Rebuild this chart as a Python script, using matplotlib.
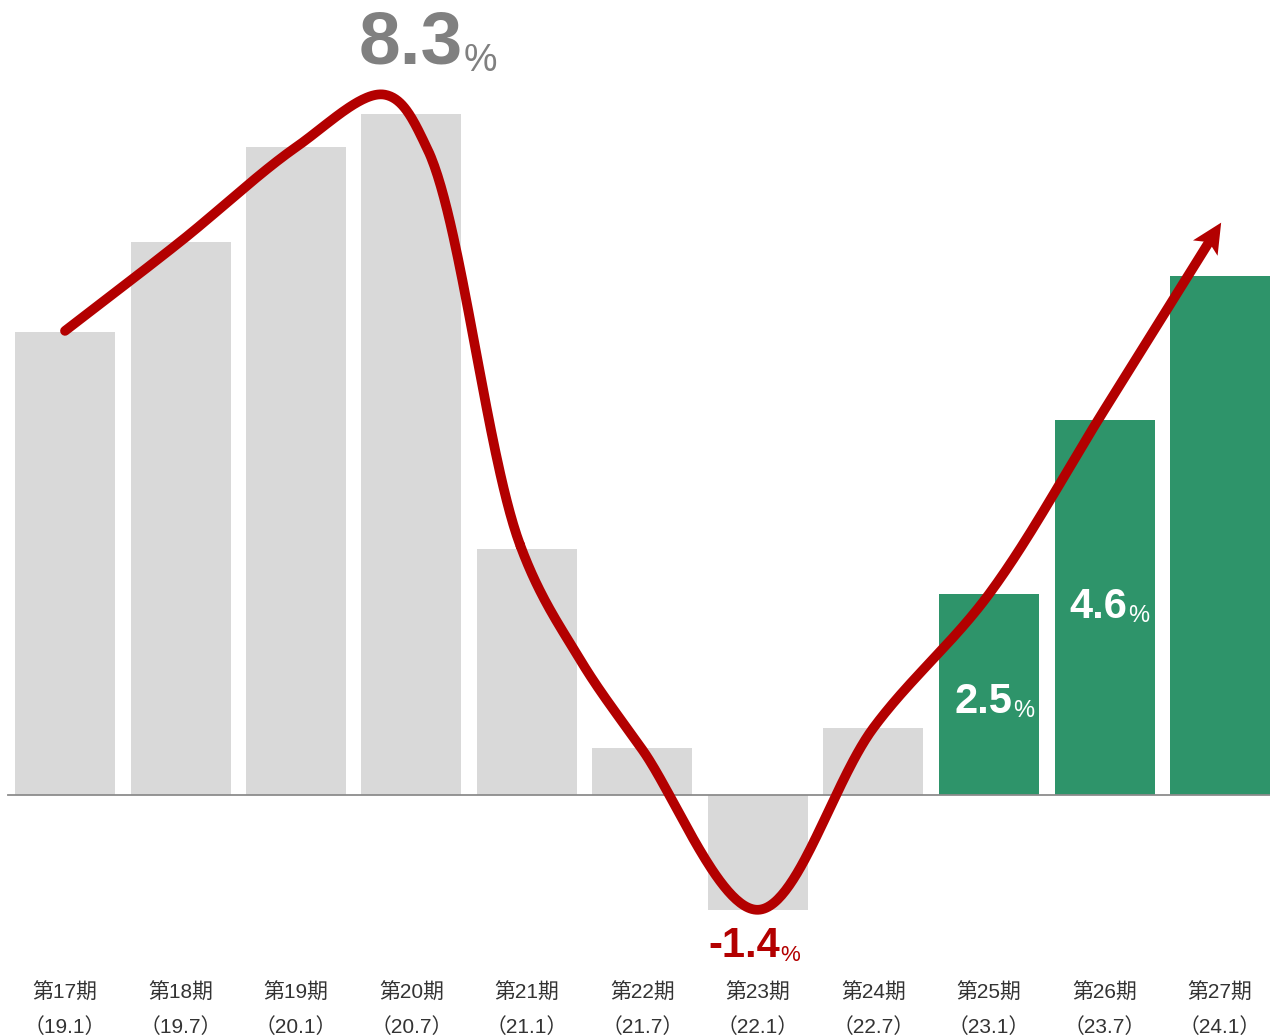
import numpy as np
import matplotlib
matplotlib.use("Agg")
import matplotlib.pyplot as plt
from matplotlib.patches import Polygon

plt.rcParams['font.family'] = ['Liberation Sans', 'Noto Sans CJK JP', 'DejaVu Sans']

# data
periods = ["第17期", "第18期", "第19期", "第20期", "第21期", "第22期",
           "第23期", "第24期", "第25期", "第26期", "第27期"]
months = ["（19.1）", "（19.7）", "（20.1）", "（20.7）", "（21.1）", "（21.7）",
          "（22.1）", "（22.7）", "（23.1）", "（23.7）", "（24.1）"]
values = [5.65, 6.75, 7.9, 8.3, 3.0, 0.57, -1.4, 0.82, 2.45, 4.57, 6.33]
is_forecast = [False] * 8 + [True] * 3

# trend curve drawn over the bars
trend_x = [0, 1, 2, 2.77, 3.14, 3.94, 4.46, 5.0, 6, 7, 8, 9, 10.01]
trend_y = [5.66, 6.75, 7.9, 8.54, 7.87, 3.05, 1.65, 0.55, -1.4, 0.82,
           2.45, 4.7, 6.98]

# labelled values: (bar index, text)
labels = [(3, "8.3"), (6, "-1.4"), (8, "2.5"), (9, "4.6")]

gray_bar = "#d9d9d9"
green = "#2e946a"
red = "#b30000"

SX, SY = 115.5, 82  # pixels per data unit

fig = plt.figure(figsize=(12.7, 10.36), dpi=100)
ax = fig.add_axes([0, 0, 1, 1])
ax.set_xlim(-65 / SX, (1270 - 65) / SX)
ax.set_ylim(-(1036 - 795) / SY, 795 / SY)
ax.axis("off")

x = np.arange(len(values))
colors = [green if f else gray_bar for f in is_forecast]
ax.bar(x, values, width=100 / SX, color=colors, zorder=1)
ax.plot([-0.494, 11], [0, 0], color="#8c8c8c", lw=1.3, zorder=2)


def catmull_rom(px, py, n=60, alpha=0.5):
    # catmull-rom in pixel space
    P = np.column_stack([np.array(px) * SX, np.array(py) * SY])
    P = np.vstack([2 * P[0] - P[1], P, 2 * P[-1] - P[-2]])
    out = []
    for i in range(1, len(P) - 2):
        p0, p1, p2, p3 = P[i - 1], P[i], P[i + 1], P[i + 2]
        t0 = 0
        t1 = t0 + np.linalg.norm(p1 - p0) ** alpha
        t2 = t1 + np.linalg.norm(p2 - p1) ** alpha
        t3 = t2 + np.linalg.norm(p3 - p2) ** alpha
        t = np.linspace(t1, t2, n)[:, None]
        a1 = (t1 - t) / (t1 - t0) * p0 + (t - t0) / (t1 - t0) * p1
        a2 = (t2 - t) / (t2 - t1) * p1 + (t - t1) / (t2 - t1) * p2
        a3 = (t3 - t) / (t3 - t2) * p2 + (t - t2) / (t3 - t2) * p3
        b1 = (t2 - t) / (t2 - t0) * a1 + (t - t0) / (t2 - t0) * a2
        b2 = (t3 - t) / (t3 - t1) * a2 + (t - t1) / (t3 - t1) * a3
        c = (t2 - t) / (t2 - t1) * b1 + (t - t1) / (t2 - t1) * b2
        out.append(c)
    return np.vstack(out)


curve = catmull_rom(trend_x, trend_y)  # pixel coords
tip = curve[-1]
seglen = np.r_[0, np.cumsum(np.linalg.norm(np.diff(curve, axis=0), axis=1))]
dist_from_end = seglen[-1] - seglen
back = curve[np.argmin(np.abs(dist_from_end - 30))]
d = (tip - back) / np.linalg.norm(tip - back)
nrm = np.array([-d[1], d[0]])
head_len, head_w, notch = 30, 14.5, 23
base = tip - head_len * d
head = np.array([tip, base + head_w * nrm, tip - notch * d, base - head_w * nrm])

line = curve[dist_from_end >= notch - 2]
ax.plot(line[:, 0] / SX, line[:, 1] / SY, color=red, lw=7,
        solid_capstyle="round", zorder=3)
ax.add_patch(Polygon(np.column_stack([head[:, 0] / SX, head[:, 1] / SY]),
                     closed=True, color=red, lw=0, zorder=3))

# value labels
label_pos = {3: (3.446, 8.915, "#808080", 54, 27),
             6: (6.19, -1.98, red, 30, 16),
             8: (8.20, 1.0, "white", 30, 17),
             9: (9.20, 2.16, "white", 30, 17)}
for i, txt in labels:
    lx, ly, col, fs, fs2 = label_pos[i]
    t = ax.text(lx, ly, txt, ha="right", va="baseline", color=col,
                fontsize=fs, fontweight="bold", zorder=4)
    ax.annotate("%", xy=(1, 0), xycoords=t, xytext=(0.5, 0),
                textcoords="offset points", ha="left", va="bottom",
                color=col, fontsize=fs2, zorder=4)

for i in x:
    ax.text(i, -(993 - 795) / SY, periods[i], ha="center", va="center",
            fontsize=15, color="#333333")
    ax.text(i, -(1027 - 795) / SY, months[i], ha="center", va="center",
            fontsize=15, color="#333333")

fig.savefig("out.png", dpi=100)
